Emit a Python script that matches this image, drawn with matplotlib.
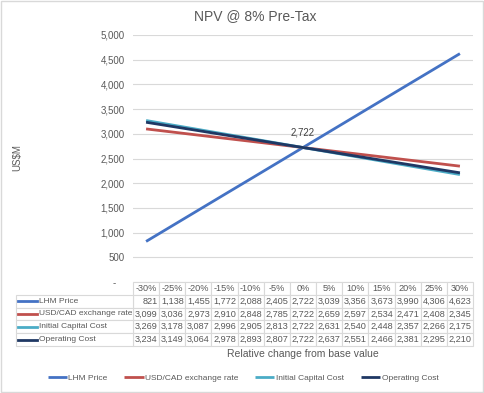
import numpy as np
import matplotlib
matplotlib.use('Agg')
import matplotlib.pyplot as plt
from matplotlib.patches import Rectangle

# sensitivity data
pct_labels = ['-30%', '-25%', '-20%', '-15%', '-10%', '-5%', '0%',
              '5%', '10%', '15%', '20%', '25%', '30%']
lhm_price = [821, 1138, 1455, 1772, 2088, 2405, 2722, 3039, 3356, 3673, 3990, 4306, 4623]
usd_cad = [3099, 3036, 2973, 2910, 2848, 2785, 2722, 2659, 2597, 2534, 2471, 2408, 2345]
initial_capex = [3269, 3178, 3087, 2996, 2905, 2813, 2722, 2631, 2540, 2448, 2357, 2266, 2175]
operating_cost = [3234, 3149, 3064, 2978, 2893, 2807, 2722, 2637, 2551, 2466, 2381, 2295, 2210]

series_names = ['LHM Price', 'USD/CAD exchange rate', 'Initial Capital Cost', 'Operating Cost']
series_values = [lhm_price, usd_cad, initial_capex, operating_cost]
series_colors = ['#4472C4', '#C0504D', '#4BACC6', '#1F3864']

text_col = '#595959'
grid_col = '#D9D9D9'


def main():
	'''draw the chart'''
	plt.rcParams['font.family'] = ['Liberation Sans', 'DejaVu Sans']

	W, H = 484, 393
	fig = plt.figure(figsize=(W / 100, H / 100), dpi=100)
	fig.patches.append(Rectangle((0.002, 0.002), 0.996, 0.996, transform=fig.transFigure,
	                             facecolor='white', edgecolor=grid_col, linewidth=1, zorder=-10))

	ax = fig.add_axes([133 / W, 1 - 282 / H, 340 / W, 247 / H])
	ax.set_facecolor('none')
	x = np.arange(len(pct_labels))

	for name, vals, col in zip(series_names, series_values, series_colors):
		ax.plot(x, vals, color=col, linewidth=2, label=name, solid_capstyle='butt')

	# label at the base case
	ax.annotate(f'{lhm_price[6]:,}', (x[6], lhm_price[6]), xytext=(0, 7),
	            textcoords='offset points', ha='center', va='bottom',
	            fontsize=7, color='#404040')

	ax.set_xlim(-0.5, len(pct_labels) - 0.5)
	ax.set_ylim(0, 5000)
	ax.set_yticks(np.arange(0, 5001, 500))
	ax.yaxis.set_major_formatter(lambda v, p: '-   ' if v == 0 else f'{v:,.0f}')
	ax.tick_params(axis='y', length=0, pad=6, labelsize=7, labelcolor=text_col)
	ax.set_xticks([])
	ax.grid(axis='y', color=grid_col, linewidth=0.8)
	ax.set_axisbelow(True)
	for s in ax.spines.values():
		s.set_visible(False)

	# data table under the plot
	row_h = 0.259 / 5
	cell_text = [[f'{v:,}' for v in vals] for vals in series_values]
	tab = ax.table(cellText=cell_text, colLabels=pct_labels, cellLoc='right',
	               colLoc='center', bbox=[0, -0.259, 1, 0.259])
	tab.auto_set_font_size(False)
	tab.set_fontsize(6.6)
	for (r, c), cell in tab.get_celld().items():
		cell.set_edgecolor(grid_col)
		cell.set_linewidth(0.8)
		cell.get_text().set_color(text_col)
		cell.PAD = 0.06

	lab = ax.table(cellText=[[n] for n in series_names], cellLoc='left',
	               bbox=[-0.344, -0.259, 0.344, row_h * 4])
	lab.auto_set_font_size(False)
	lab.set_fontsize(6.0)
	for (r, c), cell in lab.get_celld().items():
		cell.set_edgecolor(grid_col)
		cell.set_linewidth(0.8)
		cell.get_text().set_color(text_col)
		cell.PAD = 0.195

	# legend keys in the row-label cells
	for i, col in enumerate(series_colors):
		yk = -row_h * (1.5 + i)
		ax.plot([-0.337, -0.281], [yk, yk], color=col, linewidth=2,
		        transform=ax.transAxes, clip_on=False)

	fig.text(255 / W, 1 - 16 / H, 'NPV @ 8% Pre-Tax', ha='center', va='center',
	         fontsize=10, color=text_col)
	fig.text(17 / W, 1 - 158 / H, 'US$M', rotation=90, ha='center', va='center',
	         fontsize=7, color=text_col)
	fig.text(303 / W, 1 - 354 / H, 'Relative change from base value', ha='center',
	         va='center', fontsize=7.5, color=text_col)

	leg = fig.legend(loc='center', bbox_to_anchor=(243 / W, 1 - 378 / H), ncol=4,
	                 frameon=False, fontsize=6.0, handlelength=2.3, handletextpad=0.2,
	                 columnspacing=2.0)
	for t in leg.get_texts():
		t.set_color(text_col)

	fig.savefig('out.png', dpi=100)


if __name__ == '__main__':
	main()
